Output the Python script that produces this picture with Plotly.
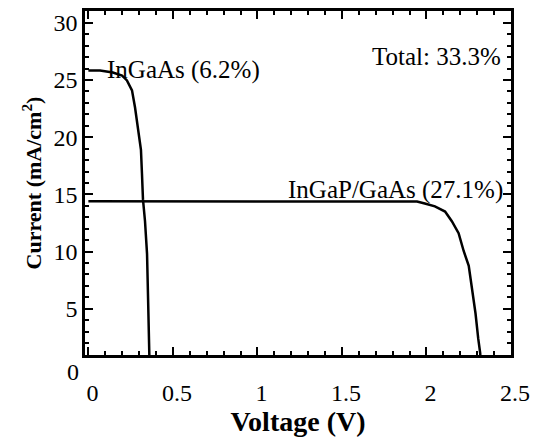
import plotly.graph_objects as go

# I-V curves of the two sub-cells (voltage in V, current in mA/cm^2)
ingaas_v = [0.0, 0.069, 0.145, 0.199, 0.228, 0.258, 0.276, 0.293, 0.311, 0.317,
            0.323, 0.335, 0.347, 0.353, 0.359, 0.362]
ingaas_i = [25.84, 25.84, 25.66, 25.4, 24.97, 24.1, 22.6, 20.9, 18.9, 16.8,
            14.56, 12.65, 9.8, 5.98, 2.25, 0.0]

ingap_v = [0.0, 1.0, 1.944, 1.99, 2.05, 2.11, 2.15, 2.19, 2.22, 2.25, 2.27,
           2.29, 2.306, 2.318, 2.32]
ingap_i = [14.39, 14.39, 14.38, 14.2, 13.95, 13.5, 12.65, 11.6, 10.05, 8.75,
           6.85, 4.6, 2.4, 1.1, 0.0]

# Axis tick steps
x_major, x_minor = 0.5, 0.1
y_major, y_minor = 5, 1
y_zero_label = "0"

x_range = [-0.02, 2.5]
y_range = [0.95, 31.04]

serif = "Liberation Serif, Times New Roman, serif"
tick_font = dict(family=serif, size=24, color="black")
note_font = dict(family=serif, size=25, color="black")

fig = go.Figure()
fig.add_trace(go.Scatter(x=ingaas_v, y=ingaas_i, mode="lines",
                         line=dict(color="black", width=2.5), showlegend=False))
fig.add_trace(go.Scatter(x=ingap_v, y=ingap_i, mode="lines",
                         line=dict(color="black", width=2.5), showlegend=False))

axis_common = dict(
    showline=True, linecolor="black", linewidth=2.5, mirror=True,
    ticks="inside", ticklen=8, tickwidth=2, tickcolor="#000000",
    showgrid=False, zeroline=False, tickfont=tick_font, tick0=0,
)

fig.update_xaxes(
    range=x_range, tickmode="linear", dtick=x_major,
    ticklabelstandoff=14, ticklabelshift=4,
    title=dict(text="<b>Voltage (V)</b>", font=dict(family=serif, size=28, color="black"),
               standoff=4),
    **axis_common,
)
fig.update_yaxes(
    range=y_range, tickmode="linear", dtick=y_major,
    title=dict(text="<b>Current (mA/cm<sup>2</sup>)</b>",
               font=dict(family=serif, size=22, color="black"), standoff=6),
    **axis_common,
)


def tick_axis(rng, step, length, side, overlay, anchor):
    """Label-free overlay axis that only draws inward tick marks."""
    return dict(range=rng, tickmode="linear", tick0=0, dtick=step,
                ticks="inside", ticklen=length, tickwidth=2, tickcolor="#000000",
                showticklabels=False, showline=False, showgrid=False,
                zeroline=False, side=side, overlaying=overlay, anchor=anchor)


# Extra tick rows: mirrored majors on top/right, minors on all four sides
fig.update_layout(
    xaxis2=tick_axis(x_range, x_major, 8, "top", "x", "y"),
    xaxis3=tick_axis(x_range, x_minor, 4, "bottom", "x", "y"),
    xaxis4=tick_axis(x_range, x_minor, 4, "top", "x", "y"),
    yaxis2=tick_axis(y_range, y_major, 8, "right", "y", "x"),
    yaxis3=tick_axis(y_range, y_minor, 4, "left", "y", "x"),
    yaxis4=tick_axis(y_range, y_minor, 4, "right", "y", "x"),
)

# Each tick row needs data on its axis; these carriers draw nothing
for xa, ya in [("x2", "y"), ("x3", "y"), ("x4", "y"),
               ("x", "y2"), ("x", "y3"), ("x", "y4")]:
    fig.add_trace(go.Scatter(x=ingap_v, y=ingap_i, mode="none", xaxis=xa, yaxis=ya,
                             showlegend=False, hoverinfo="skip"))

# The zero label of the current axis sits below the plotting frame
zero_frac = (0 - y_range[0]) / (y_range[1] - y_range[0])
annotations = [
    dict(x=0, y=zero_frac, xref="paper", yref="paper", text=y_zero_label, showarrow=False,
         xanchor="right", yanchor="middle", xshift=-4, yshift=-6, font=tick_font),
    dict(x=0.1, y=25.9, xref="x", yref="y", text="InGaAs (6.2%)", showarrow=False,
         xanchor="left", yanchor="middle", font=note_font),
    dict(x=2.45, y=27.1, xref="x", yref="y", text="Total: 33.3%", showarrow=False,
         xanchor="right", yanchor="middle", font=note_font),
    dict(x=2.465, y=15.4, xref="x", yref="y", text="InGaP/GaAs (27.1%)", showarrow=False,
         xanchor="right", yanchor="middle", font=note_font),
]

fig.update_layout(
    width=547, height=439,
    margin=dict(l=85, r=36, t=8, b=84),
    paper_bgcolor="white", plot_bgcolor="white",
    annotations=annotations,
    font=dict(family=serif, color="black"),
    showlegend=False,
)

fig.write_html("out.html")
